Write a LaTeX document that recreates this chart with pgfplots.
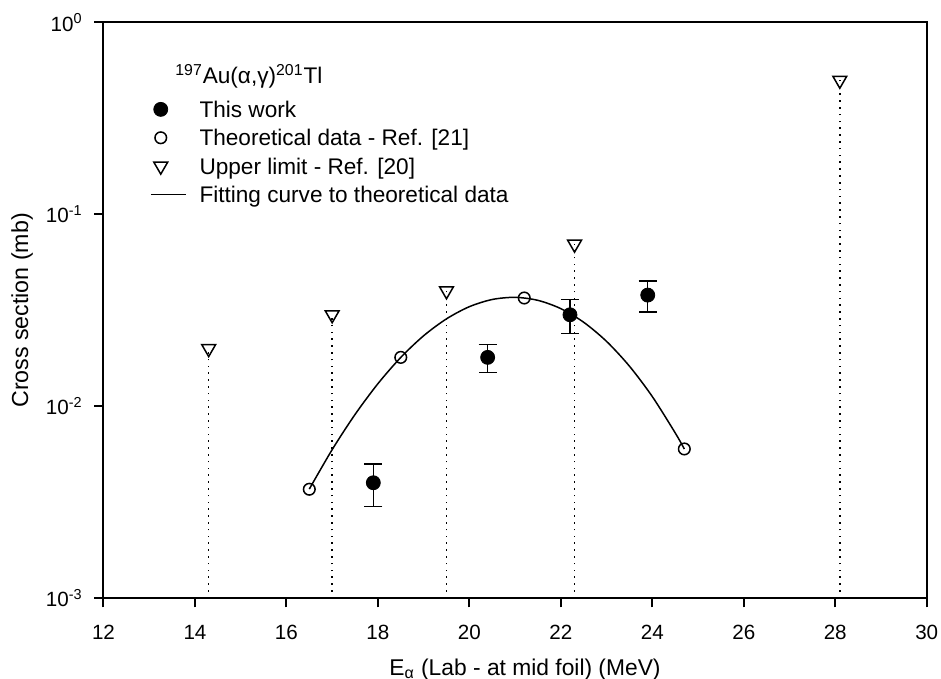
\documentclass[border=0pt]{standalone}
\usepackage{fontspec}
\setmainfont{Liberation Sans}
\usepackage{pgfplots}
\pgfplotsset{compat=1.18}
\begin{document}
\begin{tikzpicture}
\begin{axis}[
  name=ax,
  scale only axis,
  width=411.6pt, height=287.9pt,
  xmin=12, xmax=30,
  ymode=log, ymin=0.001, ymax=1,
  xtick={12,14,...,30},
  ytick={0.001,0.01,0.1,1},
  yticklabels={10\textsuperscript{-3},10\textsuperscript{-2},10\textsuperscript{-1},10\textsuperscript{0}},
  yminorticks=false, xminorticks=false,
  xtick pos=lower, ytick pos=left,
  tick align=outside, major tick length=4.5pt,
  every tick/.style={black, line width=1pt},
  axis line style={line width=1pt},
  /pgf/number format/assume math mode=true,
  ticklabel style={font=\fontsize{10.3}{12}\selectfont},
  xticklabel style={anchor=north, inner sep=0pt},
  xticklabel shift=8.6pt,
  yticklabel style={anchor=east, inner sep=0pt},
  yticklabel shift=5.75pt,
  xlabel={E\textsubscript{α} (Lab - at mid foil) (MeV)},
  ylabel={Cross section (mb)},
  xlabel style={font=\fontsize{11.4}{13}\selectfont, at={(axis description cs:0.512,0)}, anchor=base, yshift=-38.5pt, inner sep=0pt},
  ylabel style={font=\fontsize{11.6}{13}\selectfont, at={(axis description cs:-0.099,0.5)}, anchor=center, inner sep=0pt},
  legend style={at={(rel axis cs:0.0565,0.8632)}, anchor=north west, draw=none, fill=none,
    inner sep=0pt, outer sep=0pt, column sep=6.5pt, row sep=6.1pt,
    font=\fontsize{11.3}{13.5}\selectfont,
    nodes={inner sep=0pt, text height=8.1pt, text depth=0pt}},
  legend cell align=left,
  legend image code/.code={\path[draw=none,fill=none] (0pt,-4.05pt) rectangle (17.5pt,4.05pt); \draw[#1] plot coordinates {(5pt,0pt)};},
]
% legend images
\addlegendimage{only marks, mark=*, mark size=3.5pt, black}
\addlegendentry{This work}
\addlegendimage{only marks, mark=o, mark size=2.9pt, black, line width=0.75pt, mark options={fill=white}}
\addlegendentry{Theoretical data - Ref. [21]}
\addlegendimage{only marks, mark=triangle, mark size=4pt, black, line width=0.75pt, mark options={rotate=180, fill=white}}
\addlegendentry{Upper limit - Ref. [20]}
\addlegendimage{legend image code/.code={\path[draw=none,fill=none] (0pt,-4.05pt) rectangle (17.5pt,4.05pt); \draw[black, line width=0.75pt] (0pt,0pt) -- (17.5pt,0pt);}}
\addlegendentry{Fitting curve to theoretical data}

% dotted drop lines of upper limits
\addplot[forget plot, black, line width=0.8pt, dash pattern=on 0.8pt off 2.6pt] coordinates {(14.3,0.001) (14.3,0.020)};
\addplot[forget plot, black, line width=0.8pt, dash pattern=on 0.8pt off 2.6pt] coordinates {(17.0,0.001) (17.0,0.030)};
\addplot[forget plot, black, line width=0.8pt, dash pattern=on 0.8pt off 2.6pt] coordinates {(19.5,0.001) (19.5,0.040)};
\addplot[forget plot, black, line width=0.8pt, dash pattern=on 0.8pt off 2.6pt] coordinates {(22.3,0.001) (22.3,0.070)};
\addplot[forget plot, black, line width=0.8pt, dash pattern=on 0.8pt off 2.6pt] coordinates {(28.1,0.001) (28.1,0.500)};

% fitting curve
\addplot[forget plot, black, line width=0.75pt, smooth, no marks] coordinates {
(16.5,0.003707) (17.0,0.005951) (17.5,0.009074) (18.0,0.013124) (18.5,0.017989)
(19.0,0.02333) (19.5,0.02858) (20.0,0.03307) (20.5,0.03605) (21.0,0.03699)
(21.5,0.03567) (22.0,0.03230) (22.5,0.02742) (23.0,0.02180) (23.5,0.01620)
(24.0,0.011247) (24.5,0.007280) (24.7,0.005998)};

% theoretical data
\addplot[forget plot, only marks, mark=o, mark size=2.9pt, black, line width=0.75pt, mark options={fill=white}] coordinates {
(16.5,0.0037) (18.5,0.018) (21.2,0.0367) (24.7,0.0060)};

% upper limits
\addplot[forget plot, only marks, mark=triangle, mark size=4pt, black, line width=0.75pt, mark options={rotate=180, fill=white}] coordinates {
(14.3,0.020) (17.0,0.030) (19.5,0.040) (22.3,0.070) (28.1,0.50)};

% this work
\addplot[forget plot, only marks, mark=*, mark size=3.5pt, black,
  error bars/.cd, y dir=both, y explicit,
  error bar style={line width=0.7pt},
  error mark options={rotate=90, mark size=4.5pt, line width=0.7pt}] coordinates {
(17.9,0.0040) +- (0,0.0010)
(20.4,0.018) +- (0,0.003)
(22.2,0.030) +- (0,0.006)
(23.9,0.038) +- (0,0.007)};

\node[anchor=base west, font=\fontsize{11.3}{13.5}\selectfont, inner sep=0pt] at (rel axis cs:0.0869,0.8942) {\textsuperscript{197}Au(α,γ)\textsuperscript{201}Tl};
\end{axis}
\pgfresetboundingbox
\path[use as bounding box] ([shift={(-51.75pt,-40.35pt)}]ax.south west) rectangle ([shift={(7.15pt,11.25pt)}]ax.north east);
\end{tikzpicture}
\end{document}
